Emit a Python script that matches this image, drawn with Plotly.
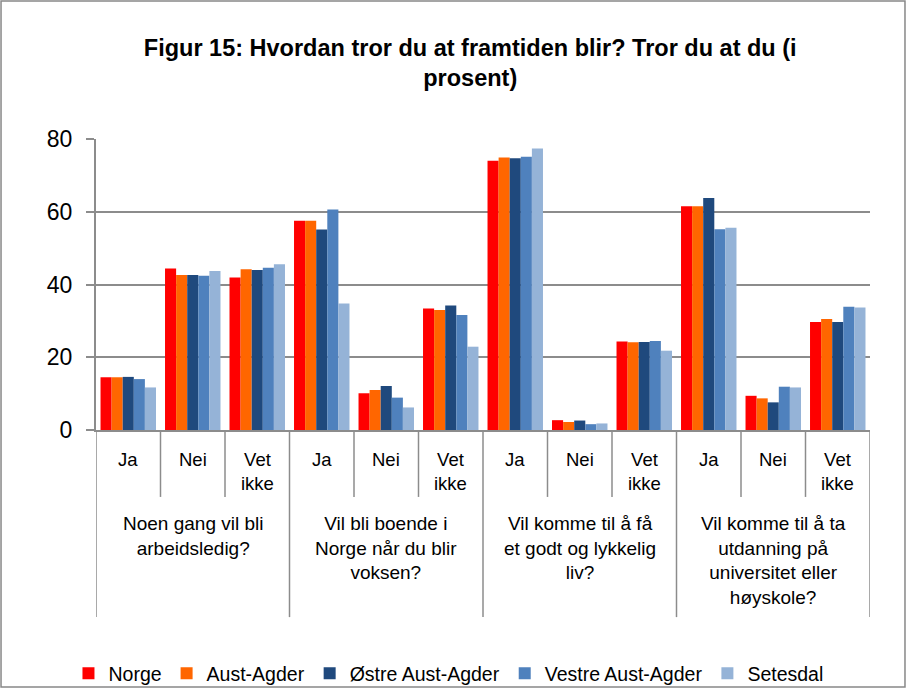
import plotly.graph_objects as go

title_text = "Figur 15: Hvordan tror du at framtiden blir? Tror du at du (i<br>prosent)"
questions = [
    "Noen gang vil bli<br>arbeidsledig?",
    "Vil bli boende i<br>Norge når du blir<br>voksen?",
    "Vil komme til å få<br>et godt og lykkelig<br>liv?",
    "Vil komme til å ta<br>utdanning på<br>universitet eller<br>høyskole?",
]
answers = ["Ja", "Nei", "Vet<br>ikke"]
series_names = ["Norge", "Aust-Agder", "Østre Aust-Agder", "Vestre Aust-Agder", "Setesdal"]
series_colors = ["#FF0000", "#FF6600", "#1F497D", "#4F81BD", "#95B3D7"]

norge = [14.5, 44.4, 41.9, 57.5, 10.1, 33.4, 74.0, 2.7, 24.3, 61.5, 9.4, 29.7]
aust_agder = [14.5, 42.6, 44.2, 57.5, 11.0, 33.0, 74.9, 2.2, 24.1, 61.5, 8.7, 30.5]
ostre = [14.6, 42.6, 44.0, 55.1, 12.1, 34.2, 74.7, 2.6, 24.2, 63.8, 7.6, 29.7]
vestre = [14.0, 42.4, 44.6, 60.6, 8.9, 31.6, 75.1, 1.6, 24.5, 55.2, 11.9, 33.9]
setesdal = [11.7, 43.7, 45.6, 34.8, 6.2, 22.9, 77.4, 1.8, 21.8, 55.6, 11.7, 33.7]
series_values = [norge, aust_agder, ostre, vestre, setesdal]

y_ticks = [0, 20, 40, 60, 80]

FONT = "Liberation Sans, Arial, sans-serif"
GRAY = "#8C8C8C"

n_cat = len(questions) * len(answers)
xs = list(range(n_cat))

fig = go.Figure()
for name, color, vals in zip(series_names, series_colors, series_values):
    fig.add_trace(go.Bar(
        x=xs, y=vals, name=name,
        marker=dict(color=color, line=dict(width=0)),
    ))

# inner labels and outer labels
for qi, q in enumerate(questions):
    for ai, a in enumerate(answers):
        fig.add_annotation(x=qi * 3 + ai, y=-0.057, xref="x", yref="paper",
                           text=a, showarrow=False, yanchor="top",
                           font=dict(size=18.5, color="#000"))
    fig.add_annotation(x=qi * 3 + 1, y=-0.28, xref="x", yref="paper",
                       text=q, showarrow=False, yanchor="top",
                       font=dict(size=19, color="#000"))

# dividers
for k in range(n_cat + 1):
    xb = k - 0.5
    y_end = -0.643 if k % 3 == 0 else -0.230
    fig.add_shape(type="line", xref="x", yref="paper", x0=xb, x1=xb,
                  y0=0, y1=y_end, line=dict(color=GRAY, width=1.5))

# outer chart border
fig.add_shape(type="rect", xref="paper", yref="paper",
              x0=-0.1227, x1=1.0452, y0=-0.883, y1=1.474,
              line=dict(color="#888888", width=1.5))

fig.update_layout(
    width=906, height=688,
    margin=dict(l=96, r=36, t=139, b=258, autoexpand=False),
    paper_bgcolor="white", plot_bgcolor="white",
    font=dict(family=FONT, color="#000"),
    title=dict(text=title_text, x=0.519, xanchor="center", y=0.919, yref="container",
               yanchor="middle",
               font=dict(size=23.5, family=FONT, color="#000", weight="bold")),
    barmode="group", bargap=0.14, bargroupgap=0.0,
    showlegend=True,
    legend=dict(orientation="h", x=0.495, xanchor="center", xref="container",
                y=0.021, yref="container", yanchor="middle", bgcolor="rgba(0,0,0,0)",
                font=dict(size=19.5), itemwidth=30, traceorder="normal"),
    xaxis=dict(range=[-0.5, n_cat - 0.5], showticklabels=False, showgrid=False,
               zeroline=False, showline=True, linecolor=GRAY, linewidth=2, ticks="",
               automargin=False),
    yaxis=dict(range=[0, 80], tickvals=y_ticks, showgrid=True, gridcolor=GRAY, gridwidth=2,
               zeroline=False, showline=True, linecolor=GRAY, linewidth=2,
               ticks="outside", ticklen=8, tickcolor=GRAY, tickwidth=2,
               ticklabelstandoff=9, automargin=False,
               tickfont=dict(size=23)),
)

fig.write_html("out.html", config={"displayModeBar": False},
               post_script="document.body.style.margin='0';")
